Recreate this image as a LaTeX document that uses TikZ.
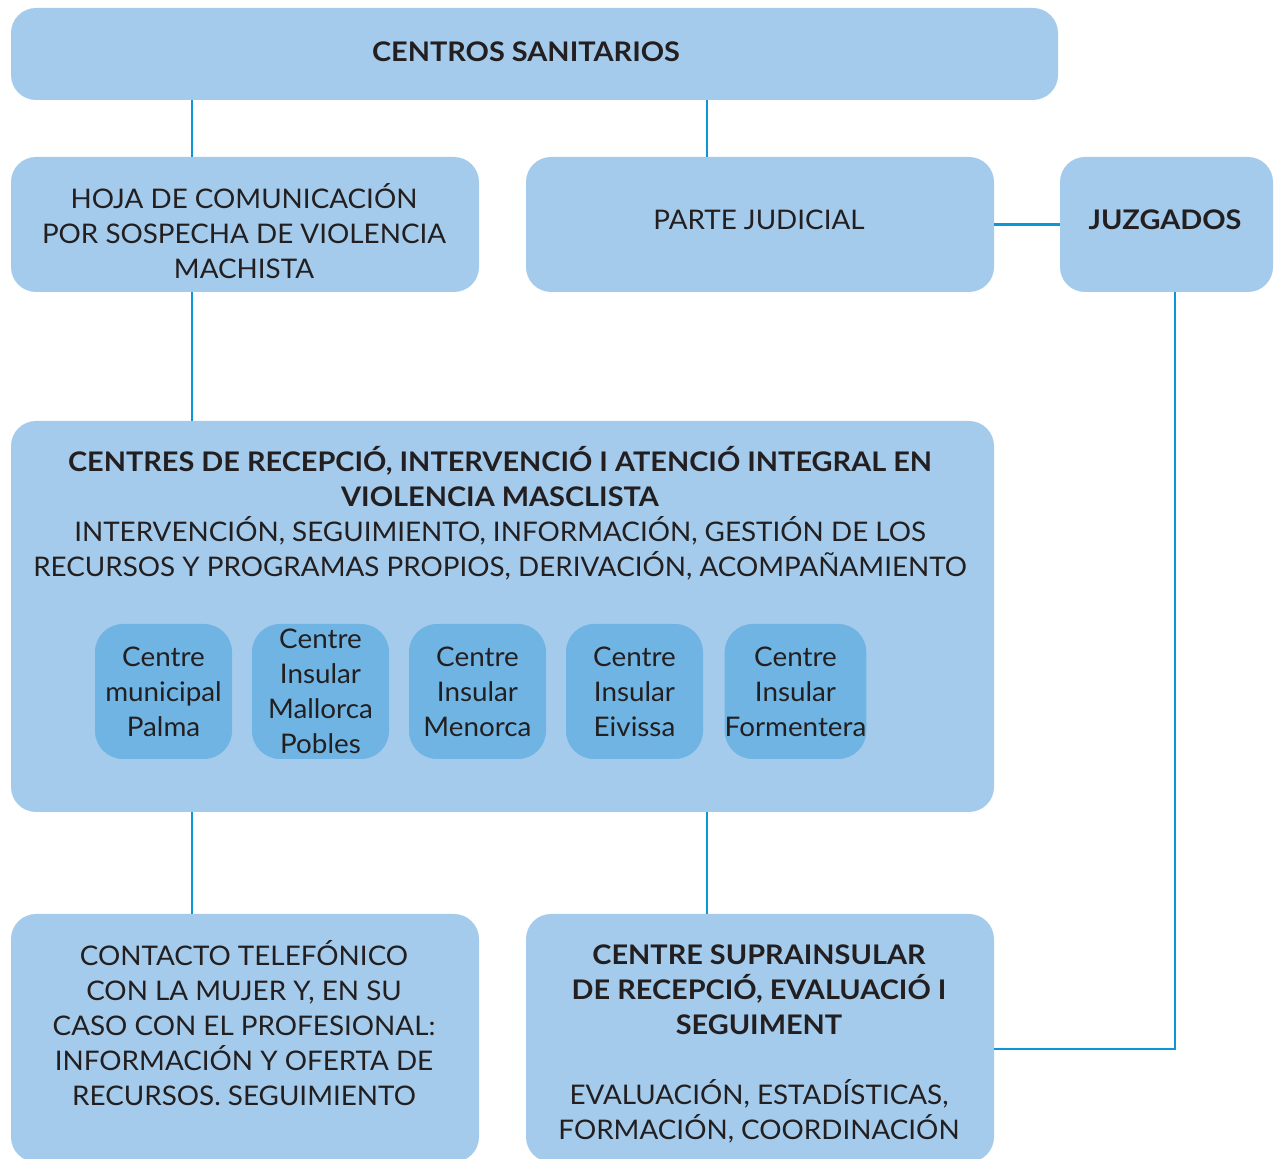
\documentclass[tikz,border=0pt]{standalone}
\usepackage{fontspec}
\setmainfont{Lato}[FakeStretch=1.03, BoldFeatures={FakeStretch=1.07}]
\definecolor{boxblue}{HTML}{A4CBEB}
\definecolor{innerblue}{HTML}{6FB4E3}
\definecolor{linkblue}{HTML}{0A96D7}
\definecolor{ink}{HTML}{231F20}
\tikzset{
  box/.style={fill=boxblue, rounded corners=12.5pt, inner sep=0pt},
  smallbox/.style={fill=innerblue, rounded corners=14pt, inner sep=0pt, text=ink, align=center,
    minimum width=68.5pt, minimum height=67.5pt, font=\fontsize{13.5}{17.5}\selectfont},
  txt/.style={text=ink, align=center, inner sep=0pt, font=\fontsize{13.5}{17.5}\selectfont},
  link/.style={draw=linkblue, line width=1.4pt}
}
\begin{document}
\begin{tikzpicture}[x=0.5pt,y=-0.5pt]
\useasboundingbox (0,0) rectangle (1281,1159);
\clip (0,0) rectangle (1281,1159);
\coordinate (cL) at (192,0);
\coordinate (cR) at (707,0);
\coordinate (cJ) at (1175,0);
\coordinate (jy) at (1175,1049);

\node[box, minimum width=523.5pt, minimum height=46pt] (top) at (534.5,54) {};
\node[txt] (toptext) at (526,52) {\bfseries CENTROS SANITARIOS};
\node[box, minimum width=234pt, minimum height=67.5pt] (hoja) at (245,224.5) {};
\node[txt] (hojatext) at (244,231.5) {HOJA DE COMUNICACIÓN\\POR SOSPECHA DE VIOLENCIA\\MACHISTA};
\node[box, minimum width=234pt, minimum height=67.5pt] (parte) at (760,224.5) {};
\node[txt] (partetext) at (759,220) {PARTE JUDICIAL};
\node[box, minimum width=106.5pt, minimum height=67.5pt] (juz) at (1166.5,224.5) {};
\node[txt] (juztext) at (1165,220) {\bfseries JUZGADOS};

\node[box, minimum width=491.5pt, minimum height=195.5pt] (big) at (502.5,616.5) {};
\node[txt] (bigtext) at (500,513.5) {\bfseries CENTRES DE RECEPCIÓ, INTERVENCIÓ I ATENCIÓ INTEGRAL EN\\\bfseries VIOLENCIA MASCLISTA\\INTERVENCIÓN, SEGUIMIENTO, INFORMACIÓN, GESTIÓN DE LOS\\RECURSOS Y PROGRAMAS PROPIOS, DERIVACIÓN, ACOMPAÑAMIENTO};

\node[smallbox] (s1) at (163.5,691.5) {Centre\\municipal\\Palma};
\node[smallbox] (s2) at (320.5,691.5) {Centre\\Insular\\Mallorca\\Pobles};
\node[smallbox] (s3) at (477.5,691.5) {Centre\\Insular\\Menorca};
\node[smallbox] (s4) at (634.5,691.5) {Centre\\Insular\\Eivissa};
\node[smallbox] (s5) at (795.5,691.5) {Centre\\Insular\\Formentera};

\node[box, minimum width=234pt, minimum height=124pt] (cont) at (245,1038) {};
\node[txt] (conttext) at (244,1023) {CONTACTO TELEFÓNICO\\CON LA MUJER Y, EN SU\\CASO CON EL PROFESIONAL:\\INFORMACIÓN Y OFERTA DE\\RECURSOS. SEGUIMIENTO};
\node[box, minimum width=234pt, minimum height=124pt] (supra) at (760,1038) {};
\node[txt] (supratext) at (759,1044) {\bfseries CENTRE SUPRAINSULAR\\\bfseries DE RECEPCIÓ, EVALUACIÓ I\\\bfseries SEGUIMENT\\[17.5pt]EVALUACIÓN, ESTADÍSTICAS,\\FORMACIÓN, COORDINACIÓN};

\draw[link] (cL |- top.south) -- (cL |- hoja.north);
\draw[link] (cR |- top.south) -- (cR |- parte.north);
\draw[link] (cL |- hoja.south) -- (cL |- big.north);
\draw[link] (cL |- big.south) -- (cL |- cont.north);
\draw[link] (cR |- big.south) -- (cR |- supra.north);
\draw[link] (parte.east) -- (juz.west);
\draw[link] (cJ |- juz.south) -- (jy) -- (jy -| supra.east);
\end{tikzpicture}
\end{document}
